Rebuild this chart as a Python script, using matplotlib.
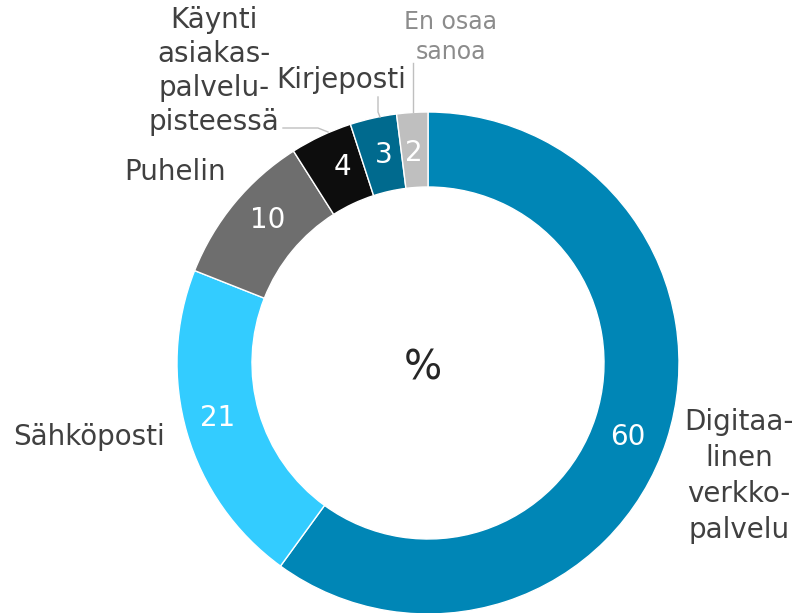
import matplotlib
matplotlib.use("Agg")
import matplotlib.pyplot as plt

categories = ["Digitaa-\nlinen\nverkko-\npalvelu", "Sähköposti", "Puhelin",
              "Käynti\nasiakas-\npalvelu-\npisteessä", "Kirjeposti", "En osaa\nsanoa"]
values = [60, 21, 10, 4, 3, 2]
colors = ["#0086B6", "#33CCFF", "#6E6E6E", "#0D0D0D", "#006A8E", "#BFBFBF"]

plt.rcParams['font.family'] = ['DejaVu Sans']
W, H = 795, 613
fig = plt.figure(figsize=(W / 100, H / 100), dpi=100)
ax = fig.add_axes([0, 0, 1, 1])

cx, cy = 428, H - 363
R = 251
wedges, _ = ax.pie(values, colors=colors, startangle=90, counterclock=False,
                   center=(cx, cy), radius=R, frame=True,
                   wedgeprops=dict(width=75, edgecolor='white', linewidth=1))
ax.set_xlim(0, W)
ax.set_ylim(0, H)
ax.set_aspect('equal')
ax.axis('off')

# value labels inside ring
val_pos = [(628, 437), (218, 418), (268, 220), (342, 167), (384, 155), (414, 153)]
for v, (x, y) in zip(values, val_pos):
    ax.text(x, H - y, str(v), ha='center', va='center', color='white', fontsize=20)

# category labels
lab_pos = [(739, 476), (89, 437), (175, 172), (214, 71), (341, 80), (451, 37)]
lab_col = ["#404040"] * 5 + ["#8C8C8C"]
lab_size = [20, 20, 20, 20, 20, 17]
lab_ls = [1.35, 1.3, 1.3, 1.28, 1.3, 1.3]
for c, (x, y), col, fs, ls in zip(categories, lab_pos, lab_col, lab_size, lab_ls):
    ax.text(x, H - y, c, ha='center', va='center', color=col, fontsize=fs,
            linespacing=ls)

# leader lines
ax.plot([283, 318, 328], [H - 128, H - 128, H - 132], color='#BFBFBF', lw=1)
ax.plot([378, 378, 380], [H - 97, H - 112, H - 117], color='#BFBFBF', lw=1)
ax.plot([413, 413], [H - 63, H - 112], color='#BFBFBF', lw=1)

ax.text(cx - 5, H - 368, "%", ha='center', va='center', color='#262626', fontsize=29)

fig.savefig("out.png", dpi=100)
